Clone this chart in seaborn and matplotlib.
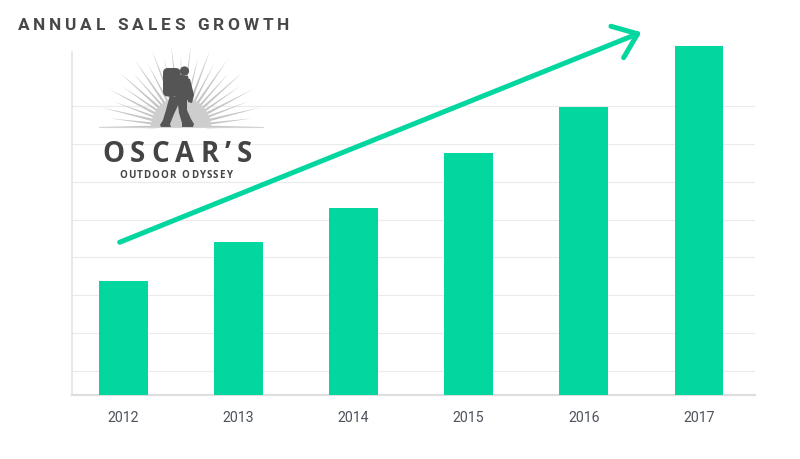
import numpy as np
import pandas as pd
import matplotlib
matplotlib.use("Agg")
import matplotlib.pyplot as plt
from matplotlib.patches import Polygon, Circle, FancyBboxPatch, Wedge
from matplotlib.patches import ArrowStyle
import seaborn as sns

# ---- data ----
years = ["2012", "2013", "2014", "2015", "2016", "2017"]
sales = [30.0, 40.4, 49.3, 63.9, 76.1, 92.2]
trend_start = (-0.03, 40.3)
trend_end = (4.50, 95.7)
title = "ANNUAL SALES GROWTH"
brand = "OSCAR\u2019S"
tagline = "OUTDOOR ODYSSEY"

GREEN = "#04d6a0"
DARK = "#474747"

sns.set_theme(style="white")
plt.rcParams["font.family"] = ["Roboto", "DejaVu Sans"]

fig = plt.figure(figsize=(8, 4.6), dpi=100)
fig.patch.set_facecolor("white")

# main chart axes (pixel layout: x 72..755, y 20..396)
ax = fig.add_axes([72 / 800, (460 - 396) / 460, (755 - 72) / 800, (396 - 20) / 460])
df = pd.DataFrame({"year": years, "sales": sales})
sns.barplot(data=df, x="year", y="sales", order=years, color=GREEN,
            saturation=1, width=0.425, ax=ax, zorder=3)
for p in ax.patches:
    p.set_edgecolor("none")

ax.set_xlim(-0.444, 5.486)
ax.set_ylim(0, 99.2)
ax.set_yticks([6.3 + 10 * i for i in range(8)])
ax.set_yticklabels([])
ax.grid(axis="y", color="#ebebeb", linewidth=0.8)
ax.grid(axis="x", visible=False)
ax.set_axisbelow(True)
ax.set_xlabel("")
ax.set_ylabel("")
ax.tick_params(axis="both", length=0)
ax.tick_params(axis="x", pad=11, labelcolor="#4d525c")
for lab in ax.get_xticklabels():
    lab.set_fontfamily(["Liberation Sans Narrow", "Roboto", "DejaVu Sans"])
    lab.set_fontsize(10.2)

for side in ["top", "right"]:
    ax.spines[side].set_visible(False)
ax.spines["left"].set_color("#e2e2e2")
ax.spines["left"].set_linewidth(1.1)
ax.spines["left"].set_bounds(0, 90.5)
ax.spines["bottom"].set_color("#dedede")
ax.spines["bottom"].set_linewidth(1.6)
ax.set_facecolor("white")

# growth trend arrow
ax.annotate("", xy=trend_end, xytext=trend_start,
            arrowprops=dict(arrowstyle=ArrowStyle("->", head_length=15.8, head_width=12.2),
                            mutation_scale=1, lw=3.6, color=GREEN,
                            shrinkA=0, shrinkB=0),
            annotation_clip=False, zorder=5)

# overlay axes in pixel coordinates for title and logo
ov = fig.add_axes([0, 0, 1, 1], zorder=10)
ov.set_xlim(0, 800)
ov.set_ylim(460, 0)
ov.axis("off")
ov.patch.set_alpha(0)

renderer = fig.canvas.get_renderer()


def spaced_text(axo, s, x0, x1, y, **kw):
    """Draw s letter by letter so it spans x0..x1 (pixel coords)."""
    widths = []
    for ch in s:
        t = axo.text(0, 0, ch if ch != " " else "n", **kw)
        bb = t.get_window_extent(renderer=renderer)
        w = bb.width
        if ch == " ":
            w *= 0.55
        widths.append(w)
        t.remove()
    total = sum(widths)
    gap = (x1 - x0 - total) / (len(s) - 1)
    x = x0
    for ch, w in zip(s, widths):
        if ch != " ":
            axo.text(x, y, ch, ha="left", va="baseline", **kw)
        x += w + gap


spaced_text(ov, title, 18, 289, 30.2, fontsize=12.4, fontweight="bold", color=DARK)

# --- logo: sunburst ---
cx, cy = 181, 128
RAY = "#c6c6c6"
angles = np.linspace(0, 180, 27)
for i, a in enumerate(angles):
    r = 82 if i % 2 == 0 else 72
    half = 3.0 if i % 2 == 0 else 2.6
    th = np.radians(a)
    thl = np.radians(a - half)
    thr = np.radians(a + half)
    r0 = 26
    pts = [(cx + r0 * np.cos(thl), cy - r0 * np.sin(thl)),
           (cx + r * np.cos(th), cy - r * np.sin(th)),
           (cx + r0 * np.cos(thr), cy - r0 * np.sin(thr))]
    ov.add_patch(Polygon(pts, closed=True, facecolor=RAY, edgecolor="none"))
# y axis runs downward here, so the upper half-disc spans 180..360 degrees
ov.add_patch(Wedge((cx, cy), 30, 180, 360, facecolor="#cdcdcd", edgecolor="none"))
ov.plot([cx - 82, cx + 82], [cy, cy], color="#d4d4d4", lw=0.8)

# --- logo: hiker silhouette ---
HIKER = "#555555"
ov.add_patch(FancyBboxPatch((163, 69), 17.5, 28.5, boxstyle="round,pad=0,rounding_size=5",
                            facecolor=HIKER, edgecolor="none"))
ov.add_patch(Circle((184.5, 72.0), 4.6, facecolor=HIKER, edgecolor="none"))
ov.add_patch(Polygon([(177, 75), (188, 77), (191, 90), (188, 101), (175, 101)],
                     closed=True, facecolor=HIKER, edgecolor="none"))
ov.add_patch(Polygon([(185, 79), (190, 80), (194, 96), (192, 104), (188, 103), (187, 96), (182, 85)],
                     closed=True, facecolor=HIKER, edgecolor="none"))
ov.add_patch(Polygon([(170, 96), (181, 100), (174, 115), (170, 125), (171, 128), (161, 128),
                      (160, 126), (163, 121), (166, 111)],
                     closed=True, facecolor=HIKER, edgecolor="none"))
ov.add_patch(Polygon([(177, 97), (187, 99), (187, 111), (191, 120), (194, 125), (193, 128),
                      (182, 128), (182, 124), (179, 114)],
                     closed=True, facecolor=HIKER, edgecolor="none"))

# --- logo: wordmark ---
spaced_text(ov, brand, 102, 252, 162.5, fontsize=20, fontweight="bold", color="#444444",
            family=["Open Sans", "DejaVu Sans"])
spaced_text(ov, tagline, 119, 232, 178.5, fontsize=7.0, fontweight="bold", color="#444444",
            family=["Open Sans", "DejaVu Sans"])

fig.savefig("out.png", dpi=100, facecolor="white")
